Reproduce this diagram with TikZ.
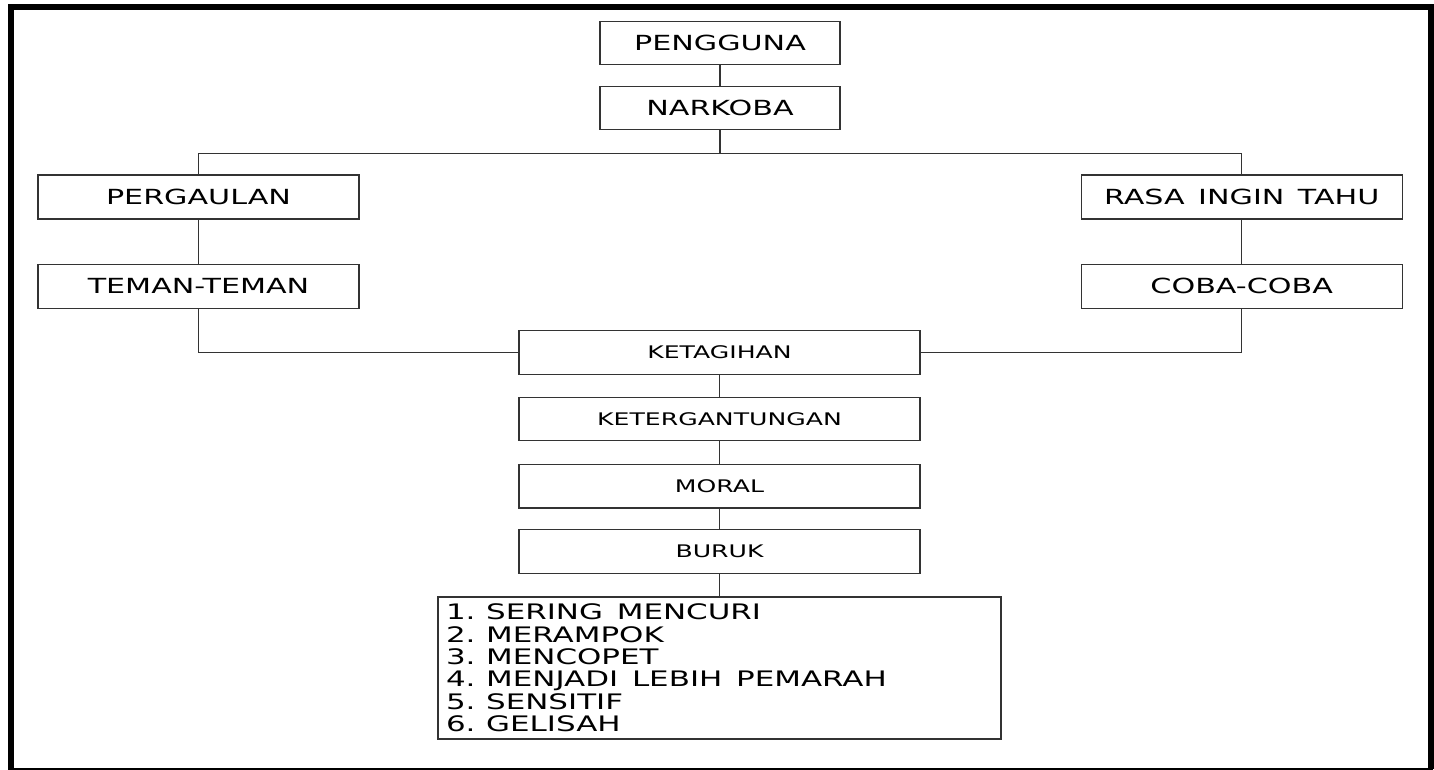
\documentclass[tikz,border=0pt]{standalone}
\usepackage{fontspec}
\setmainfont[FakeStretch=1.45,WordSpace=1.4]{DejaVu Sans}
\usetikzlibrary{positioning}
\definecolor{chartink}{HTML}{333333}

\begin{document}
\begin{tikzpicture}[x=.75pt,y=-.75pt,
        box/.style={draw=chartink,line width=.8pt,inner sep=0pt,font=\fontsize{15.6}{18}\selectfont},
        topbox/.style={box,minimum width=180pt,minimum height=32pt},
        sidebox/.style={box,minimum width=240.75pt,minimum height=33pt},
        midbox/.style={box,minimum width=300.75pt,minimum height=32.7pt,font=\fontsize{13}{15}\selectfont},
        link/.style={draw=chartink,line width=.8pt}]
        \useasboundingbox (0,0) rectangle (1434,770);
        \draw[line width=4.5pt] (11,769) -- (11,7) -- (1430.5,7) -- (1430.5,769);
        \draw[line width=1.5pt] (8,768.5) -- (1433,768.5);

        \node[topbox] (pengguna) at (720,43) {PENGGUNA};
        \node[topbox] (narkoba) at (720,108.3) {NARKOBA};
        \coordinate (fork) at (720,153.3);

        \node[sidebox] (pergaulan) at (198.5,197) {PERGAULAN};
        \node[sidebox] (teman) at (198.5,286.3) {TEMAN-TEMAN};
        \node[sidebox] (rasa) at (1241.7,197) {RASA INGIN TAHU};
        \node[sidebox] (coba) at (1241.7,286.3) {COBA-COBA};

        \node[midbox] (ketagihan) at (719.5,352.5) {KETAGIHAN};
        \node[midbox] (ketergantungan) at (719.5,419) {KETERGANTUNGAN};
        \node[midbox] (moral) at (719.5,486.2) {MORAL};
        \node[midbox] (buruk) at (719.5,551.3) {BURUK};

        \node[box,inner xsep=6pt,text width=410.25pt,minimum height=106.5pt,align=left,
          font=\fontsize{16}{16.8}\selectfont] (dampak) at (719.5,668) {\spaceskip=0pt\relax
          1. SERING MENCURI\\
          2. MERAMPOK\\
          3. MENCOPET\\
          4. MENJADI LEBIH PEMARAH\\
          5. SENSITIF\\
          6. GELISAH};

        \draw[link] (pengguna) -- (narkoba);
        \draw[link] (narkoba) -- (fork);
        \draw[link] (pergaulan) |- (fork) -| (rasa);
        \draw[link] (pergaulan) -- (teman);
        \draw[link] (rasa) -- (coba);
        \draw[link] (teman) |- (ketagihan);
        \draw[link] (coba) |- (ketagihan);
        \draw[link] (ketagihan) -- (ketergantungan);
        \draw[link] (ketergantungan) -- (moral);
        \draw[link] (moral) -- (buruk);
        \draw[link] (buruk) -- (dampak);
      \end{tikzpicture}
\end{document}
